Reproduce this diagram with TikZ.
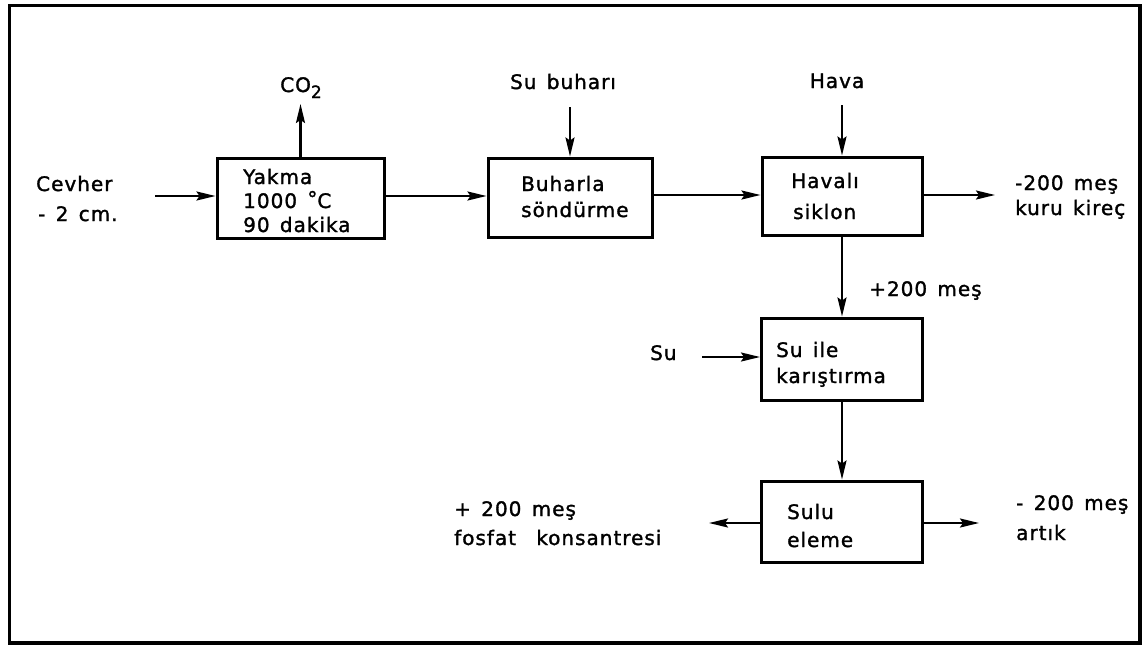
\documentclass[tikz,border=0pt]{standalone}
\usepackage{fontspec}
\setmainfont{DejaVu Sans}[LetterSpace=5,WordSpace=1.4,FakeBold=1.5]
\usetikzlibrary{arrows.meta}
\begin{document}
\begin{tikzpicture}[x=1pt,y=-1pt,
  box/.style={draw, line width=3pt, rectangle, inner sep=0pt},
  txt/.style={anchor=base west, inner sep=0pt, font=\fontsize{20}{23}\selectfont},
  ctxt/.style={anchor=base, inner sep=0pt, font=\fontsize{20}{23}\selectfont},
  arr/.style={line width=2.2pt, -{Stealth[length=19pt,width=9pt,inset=3pt]}}
]
\useasboundingbox (0,0) rectangle (1142,648);
\draw[line width=3.2pt] (9.5,5.5) rectangle (1140,643);

% boxes
\node[box, minimum width=167pt, minimum height=80pt] (yakma) at (300.5,198) {};
\node[box, minimum width=164pt, minimum height=79pt] (buhar) at (570,197.5) {};
\node[box, minimum width=160pt, minimum height=78pt] (siklon) at (842,196) {};
\node[box, minimum width=161pt, minimum height=82pt] (karis) at (842,359) {};
\node[box, minimum width=161pt, minimum height=81pt] (eleme) at (842,521.5) {};

% box texts
\node[txt] (t1) at (243,184) {Yakma};
\node[txt] (t2) at (243,208) {1000 \raisebox{0.2ex}{°}C};
\node[txt] (t3) at (243,232) {90 dakika};
\node[txt] (t4) at (521,191) {Buharla};
\node[txt] (t5) at (521,217) {söndürme};
\node[txt] (t6) at (791,188) {Havalı};
\node[txt] (t7) at (793,219) {siklon};
\node[txt] (t8) at (776,357) {Su ile};
\node[txt] (t9) at (776,383) {karıştırma};
\node[txt] (t10) at (787,519) {Sulu};
\node[txt] (t11) at (787,547) {eleme};

% outside labels
\node[txt] (cevher) at (36,191) {Cevher};
\node[txt] (cm) at (38,221) {- 2 cm.};
\node[ctxt] (co2) at (301,92) {CO\raisebox{-0.55ex}{\fontsize{17}{17}\selectfont 2}};
\node[ctxt] (subuh) at (563,89) {Su buharı};
\node[ctxt] (hava) at (837,88) {Hava};
\node[txt] (kk1) at (1015,190) {-200 meş};
\node[txt] (kk2) at (1015,215) {kuru kireç};
\node[txt] (p200) at (869,296) {+200 meş};
\node[txt] (su) at (650,360) {Su};
\node[txt] (fk1) at (454,516) {+ 200 meş};
\node[txt] (fk2) at (454,545) {fosfat\hspace{0.5em} konsantresi};
\node[txt] (ar1) at (1016,510) {- 200 meş};
\node[txt] (ar2) at (1016,540) {artık};

% free ends
\coordinate (cin) at (155,196);
\coordinate (co2tip) at (300.5,104);
\coordinate (sbtop) at (570,107);
\coordinate (hvtop) at (842,105);
\coordinate (kktip) at (995,195);
\coordinate (sutail) at (702,357);
\coordinate (fktip) at (709,523);
\coordinate (artip) at (979,523);

% connectors
\draw[arr] (cin) -- (cin -| yakma.west);
\draw[arr] (yakma.north) -- (co2tip);
\draw[arr] (yakma.east |- 0,196) -- (buhar.west |- 0,196);
\draw[arr] (sbtop) -- (buhar.north);
\draw[arr] (buhar.east |- 0,195) -- (siklon.west |- 0,195);
\draw[arr] (hvtop) -- (siklon.north);
\draw[arr] (siklon.east |- kktip) -- (kktip);
\draw[arr] (siklon.south) -- (karis.north);
\draw[arr] (sutail) -- (sutail -| karis.west);
\draw[arr] (karis.south) -- (eleme.north);
\draw[arr] (fktip -| eleme.west) -- (fktip);
\draw[arr] (artip -| eleme.east) -- (artip);
\end{tikzpicture}
\end{document}
